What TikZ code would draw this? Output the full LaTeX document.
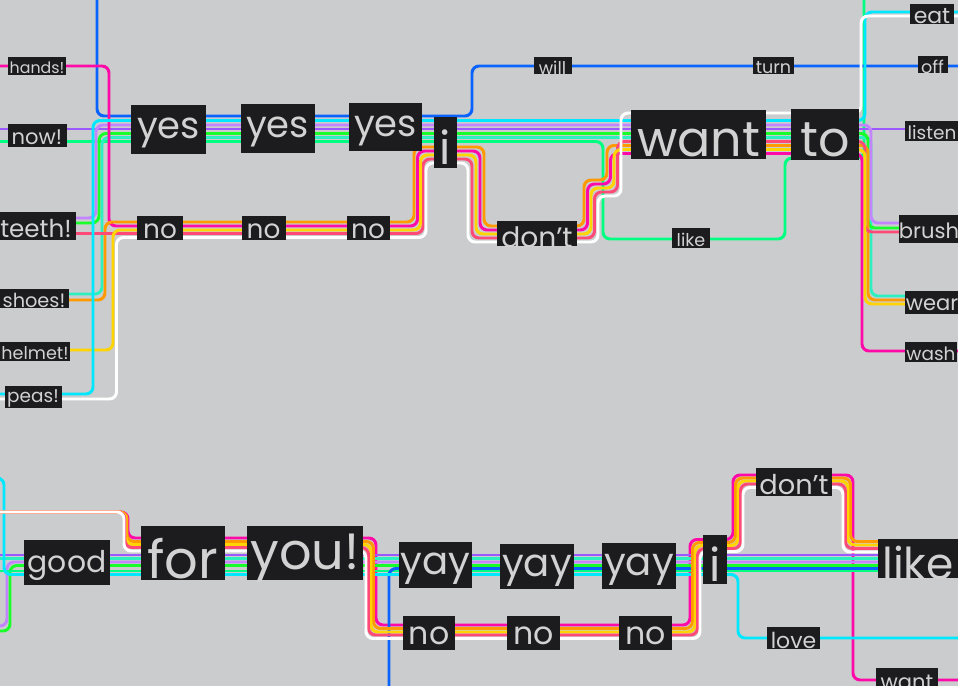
\documentclass[tikz,border=0pt]{standalone}
\usepackage{fontspec}
\setmainfont{Poppins}
\definecolor{bgGrey}{HTML}{CBCCCD}
\definecolor{wordBox}{HTML}{1C1B1D}
\definecolor{wordText}{HTML}{D2D2D2}
\definecolor{lnBlue}{HTML}{0A62FF}
\definecolor{lnCyan}{HTML}{00E8FF}
\definecolor{lnLPurple}{HTML}{C384FF}
\definecolor{lnPurple}{HTML}{9B59FF}
\definecolor{lnGreen}{HTML}{19FF2A}
\definecolor{lnSGreen}{HTML}{00FF80}
\definecolor{lnMint}{HTML}{2DF0C0}
\definecolor{lnOrange}{HTML}{FF9A00}
\definecolor{lnYellow}{HTML}{FFD400}
\definecolor{lnMagenta}{HTML}{FF0AA8}
\definecolor{lnRed}{HTML}{FF4A78}
\usetikzlibrary{positioning}

%drop the glyphs a little without changing the box the node sees
\newcommand{\low}[1]{\raisebox{-0.1em}[\height][\depth]{#1}}

\tikzset{
	word/.style={fill=wordBox, text=wordText, inner sep=0pt, outer sep=0pt},
	box/.style n args={3}{minimum width={#1*0.02cm}, minimum height={#2*0.02cm}, font=\fontsize{#3}{#3}\selectfont},
	ln/.style={line width=1.7pt, rounded corners=4pt, draw=#1}
}

\begin{document}
\begin{tikzpicture}[x=0.02cm,y=-0.02cm]

	%one unit is one pixel of the 958 x 686 sheet, y runs downwards
	\pgfdeclarelayer{canvas}
	\pgfdeclarelayer{background}
	\pgfsetlayers{canvas,background,main}

	\begin{pgfonlayer}{canvas}
		\fill[bgGrey] (0,0) rectangle (958,686);
	\end{pgfonlayer}
	\useasboundingbox (0,0) rectangle (958,686);

	%upper sentences
	\begin{pgfonlayer}{background}
		%the like detour
		\draw[ln=lnSGreen] (-20,141.5) -| (603,239) -| (785,158) -| (864,-20);
		%yes bundle
		\draw[ln=lnBlue] (97,-20) |- (472,116) |- (980,66);
		\draw[ln=lnPurple] (-20,129) -- (980,129);
		\draw[ln=lnMint] (-20,294) -| (102,137.5) -| (871,296) -- (980,296);
		\draw[ln=lnGreen] (-20,223) -| (99,133.5) -| (868,228) -- (980,228);
		\draw[ln=lnLPurple] (-20,218) -| (96,125) -| (871,223) -- (980,223);
		%no bundle
		\draw[ln=lnMagenta] (-20,66) -| (109,226) -| (417.5,151) -| (480,230) -| (587.5,184) -| (610.5,153.5) -| (862,351) -- (980,351);
		\draw[ln=lnOrange] (-20,300) -| (105,222) -| (414,147) -| (484,226) -| (584,180) -| (607,145.5) -| (868,300) -- (980,300);
		\draw[ln=lnRed] (-20,233.5) -| (423,159) -| (472,238) -| (594.5,192) -| (617.5,141.5) -| (865,232) -- (980,232);
		\draw[ln=lnYellow] (-20,350) -| (113,230) -| (420.5,155) -| (476,234) -| (591,188) -| (614,149.5) -| (865,304) -- (980,304);
		\draw[ln=lnCyan] (-20,394) -| (93,120.5) -| (865,12) -- (980,12);
		\draw[ln=white] (-20,399) -| (116.5,237.5) -| (426,163) -| (468,242) -| (598,196) -| (621,113) -| (861,16) -- (980,16);
	\end{pgfonlayer}

	%lower sentences
	\begin{pgfonlayer}{background}
		\draw[ln=lnMagenta] (-20,512) -| (128,538) -| (376,625) -| (690,539.5) -| (733,475) -| (853,680) -- (980,680);
		\draw[ln=lnPurple] (-20,555) -- (980,555);
		\draw[ln=lnMint] (-20,558.5) -- (980,558.5);
		\draw[ln=lnLPurple] (-20,626) -| (7,562) -- (980,562);
		\draw[ln=lnGreen] (-20,631) -| (10,565.5) -- (980,565.5);
		\draw[ln=lnSGreen] (-20,571) -- (980,571);
		\draw[ln=lnBlue] (389,706) |- (980,568.5);
		\draw[ln=lnCyan] (-20,478) -| (4,574.5) -| (738,638) -- (980,638);
		\draw[ln=lnOrange] (-20,512) -| (127,541.5) -| (373.5,628.5) -| (692.5,542.5) -| (735.5,478) -| (850.5,541.5) -- (980,541.5);
		\draw[ln=lnYellow] (-20,512) -| (126,544.5) -| (371,632) -| (695,545.5) -| (738,481) -| (848,545) -- (980,545);
		\draw[ln=lnRed] (-20,512) -| (125,547.5) -| (368.5,635) -| (697.5,548.5) -| (740.5,484) -| (845.5,548.5) -- (980,548.5);
		\draw[ln=white] (-20,512) -| (124,551) -| (366,638.5) -| (700,551.5) -| (743,487.5) -| (843,552) -- (980,552);
	\end{pgfonlayer}

	%upper words
	\node[word, box={58}{18}{9}] (hands) at (37,66) {\low{hands!}};
	\node[word, box={59}{23}{12}] (now) at (37,135.5) {\low{now!}};
	\node[word, box={80}{28}{14}] (teeth) at (36,226) {\low{teeth!}};
	\node[word, box={70}{19}{11}] (shoes) at (34,298.5) {\low{shoes!}};
	\node[word, box={70}{19}{10}] (helmet) at (35,351) {\low{helmet!}};
	\node[word, box={57}{22}{10.5}] (peas) at (33,397) {\low{peas!}};
	\node[word, box={75}{49}{21}] (yesA) at (168.5,129.5) {\low{yes}};
	\node[word, box={74}{49}{21}] (yesB) at (277.5,128.5) {\low{yes}};
	\node[word, box={73}{48}{21}] (yesC) at (385.5,127) {\low{yes}};
	\node[word, box={23}{51}{26}] (iTop) at (445.5,142.5) {\low{i}};
	\node[word, box={46}{24}{15}] (noA) at (160,228.5) {\low{no}};
	\node[word, box={44}{24}{15}] (noB) at (263.5,228.5) {\low{no}};
	\node[word, box={43}{24}{15}] (noC) at (368,228.5) {\low{no}};
	\node[word, box={80}{25}{16}] (dontTop) at (537,234) {\low{don’t}};
	\node[word, box={38}{17}{10}] (will) at (552.5,66) {\low{will}};
	\node[word, box={41}{17}{10}] (turn) at (773.5,66) {\low{turn}};
	\node[word, box={135}{49}{28}] (wantTop) at (698.5,134.5) {\low{want}};
	\node[word, box={68}{51}{28}] (to) at (825,134.5) {\low{to}};
	\node[word, box={38}{20}{10}] (likeTop) at (691,238.5) {\low{like}};
	\node[word, box={44}{20}{12.5}] (eat) at (932,14) {\low{eat}};
	\node[word, box={30}{17}{10}] (off) at (932.5,65) {\low{off}};
	\node[word, box={54}{20}{10.5}] (listen) at (932,131) {\low{listen}};
	\node[word, box={54}{28}{12}] (brush) at (929,229) {\low{brush}};
	\node[word, box={54}{23}{12}] (wear) at (932,302.5) {\low{wear}};
	\node[word, box={52}{20}{10.5}] (wash) at (931,352) {\low{wash}};

	%lower words
	\node[word, box={86}{45}{17}] (good) at (67,562.5) {\low{good}};
	\node[word, box={84}{54}{30}] (for) at (183,553) {\low{for}};
	\node[word, box={116}{54}{29}] (you) at (305,553) {\low{you!}};
	\node[word, box={73}{46}{22}] (yayA) at (435.5,565) {\low{yay}};
	\node[word, box={74}{45}{22}] (yayB) at (537,566.5) {\low{yay}};
	\node[word, box={74}{46}{22}] (yayC) at (639,566) {\low{yay}};
	\node[word, box={24}{49}{26}] (iBot) at (715,559.5) {\low{i}};
	\node[word, box={52}{34}{18}] (noD) at (429,633) {\low{no}};
	\node[word, box={53}{34}{18}] (noE) at (533.5,633) {\low{no}};
	\node[word, box={53}{34}{18}] (noF) at (645.5,633) {\low{no}};
	\node[word, box={76}{28}{15.5}] (dontBot) at (794,482) {\low{don’t}};
	\node[word, box={80}{39}{25}] (likeBot) at (918,558.5) {\low{like}};
	\node[word, box={53}{22}{12.5}] (love) at (793.5,638) {\low{love}};
	\node[word, box={62}{24}{12}] (wantBot) at (907,680) {\low{want}};

\end{tikzpicture}
\end{document}
